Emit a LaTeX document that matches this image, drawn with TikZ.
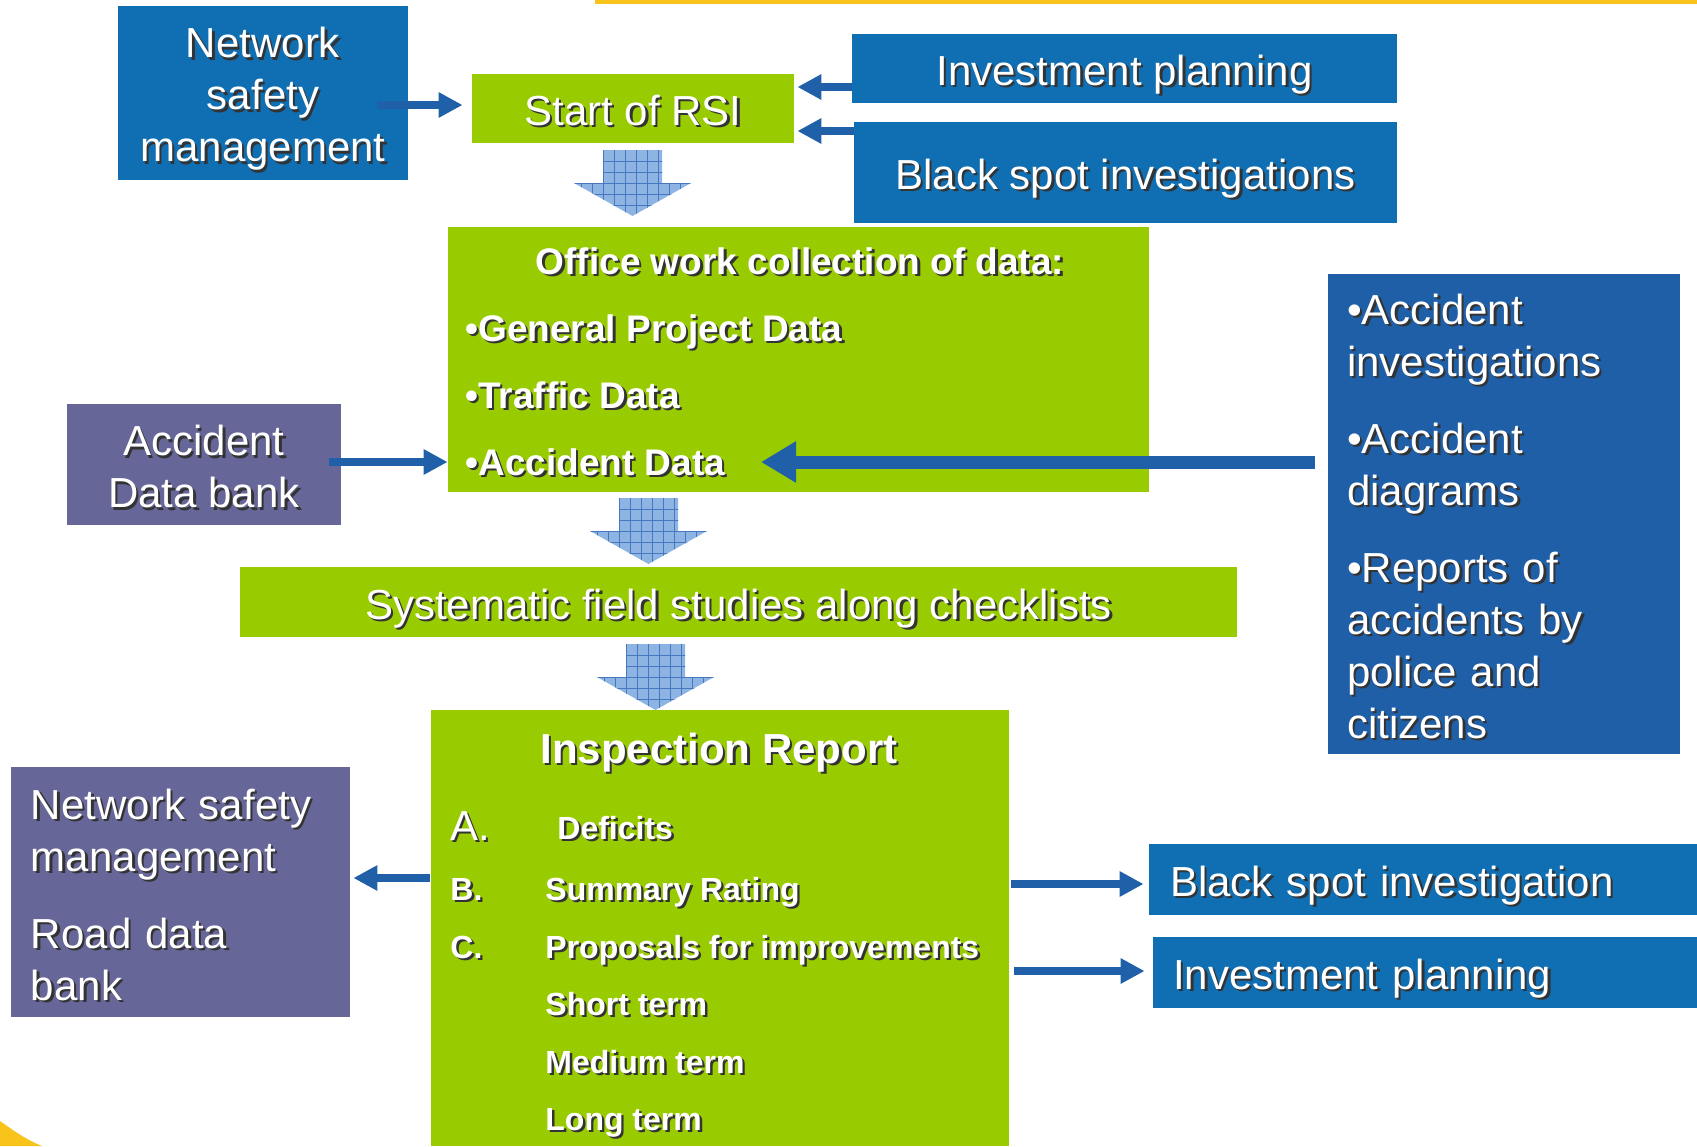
\documentclass[tikz,border=0pt]{standalone}
\usepackage{fontspec}
\setmainfont{Liberation Sans}
\usetikzlibrary{arrows.meta}
\usetikzlibrary{calc}

\definecolor{boxblue}{RGB}{16,110,178}
\definecolor{deepblue}{RGB}{31,95,168}
\definecolor{lilac}{RGB}{102,102,153}
\definecolor{lime}{RGB}{153,204,0}
\definecolor{arrowblue}{RGB}{32,96,168}
\definecolor{hatchfill}{RGB}{142,180,227}
\definecolor{hatchline}{RGB}{70,120,192}
\definecolor{gold}{RGB}{248,196,28}

% white text with a dark drop shadow
\newcommand{\tshadow}[1]{\leavevmode\rlap{\kern1.2pt\raisebox{-1.2pt}{\color{black!80}#1}}#1}

% checkered block arrow pointing down: #1 = x centre, #2 = top
\newcommand{\hatcharrow}[2]{%
	\begin{scope}
		\clip (#1-29.5,#2) -- (#1+29.5,#2) -- (#1+29.5,#2+33) -- (#1+58.5,#2+33)
			-- (#1,#2+66) -- (#1-58.5,#2+33) -- (#1-29.5,#2+33) -- cycle;
		\fill[hatchfill] (#1-60,#2-1) rectangle (#1+60,#2+67);
		\foreach \k in {0,...,11}
			\draw[hatchline, line width=0.5pt] (#1-62.5+\k*11,#2) -- ++(0,66);
		\foreach \k in {1,...,6}
			\draw[hatchline, line width=0.5pt] (#1-60,#2+\k*11) -- ++(120,0);
	\end{scope}}

\begin{document}
\begin{tikzpicture}[x=0.5pt,y=-0.5pt]
		\tikzstyle{plain}=[inner sep=0pt, text=white, font=\fontsize{21}{26}\selectfont]
		\tikzstyle{oneline}=[text height=17pt, text depth=0pt]
		\tikzstyle{bluebox}=[plain, fill=boxblue]
		\tikzstyle{greenbox}=[plain, fill=lime]
		\tikzstyle{lilacbox}=[plain, fill=lilac]
		\tikzstyle{boldtext}=[inner sep=0pt, text=white, font=\bfseries\fontsize{18.5}{22}\selectfont]
		\tikzstyle{itemtext}=[inner sep=0pt, text=white, font=\bfseries\fontsize{16}{20}\selectfont, anchor=base west]
		\tikzstyle{link}=[draw=arrowblue, line width=4pt, -{Triangle[length=12pt, width=12pt]}]
		\tikzstyle{biglink}=[draw=arrowblue, line width=6.5pt, -{Triangle[length=17.5pt, width=19.5pt]}]
		
		\useasboundingbox (0,0) rectangle (1697,1146);
		\fill[gold] (595,0) rectangle (1697,4);
		\fill[gold] (0,1121) .. controls (14,1131) and (27,1140) .. (42,1146) -- (0,1146) -- cycle;
		
		% top row
		\node[bluebox, minimum width=145pt, minimum height=86.75pt] (nsm) at (263,93) {};
		\node[plain, align=center] (nsmtext) at ($(nsm.center)+(0,7)$)
			{\tshadow{Network}\\\tshadow{safety}\\\tshadow{management}};
		\node[greenbox, oneline, minimum width=161pt, minimum height=34.5pt] (rsi) at (633,108.5) {\tshadow{Start of RSI}};
		\node[bluebox, oneline, minimum width=272.5pt, minimum height=34.5pt] (inv) at (1124.5,68.5) {\tshadow{Investment planning}};
		\node[bluebox, oneline, minimum width=271.5pt, minimum height=50.5pt] (bsi) at (1125.5,172.5) {\tshadow{Black spot investigations}};
		
		\draw[link] ($(nsm.east)+(-31,12)$) -- ($(rsi.west)+(-9,-3.5)$);
		\draw[link] ($(inv.west)+(0,18.5)$) -- ($(rsi.east)+(3,-21.5)$);
		\draw[link] ($(bsi.west)+(0,-41.5)$) -- ($(rsi.east)+(3,22.5)$);
		
		\hatcharrow{632.5}{150}
		
		% office work
		\node[greenbox, minimum width=350.5pt, minimum height=132.5pt] (office) at (798.5,359.5) {};
		\node[boldtext, anchor=base] (otitle) at (800,274) {\tshadow{Office work collection of data:}};
		\node[boldtext, anchor=base west] (gendata) at (465,341) {\tshadow{•General Project Data}};
		\node[boldtext, anchor=base west] (trafdata) at (465,408) {\tshadow{•Traffic Data}};
		\node[boldtext, anchor=base west] (accdata) at (465,475) {\tshadow{•Accident Data}};
		\coordinate (acctip) at (761,462);
		
		\node[lilacbox, minimum width=137pt, minimum height=60.5pt] (adb) at (204,464.5) {};
		\node[plain, align=center] (adbtext) at ($(adb.center)+(0,3.5)$)
			{\tshadow{Accident}\\\tshadow{Data bank}};
		\node[plain, fill=deepblue, minimum width=176pt, minimum height=240pt] (sources) at (1504,514) {};
		\node[plain, anchor=west, text width=157pt, align=left] (srctext) at ($(sources.west)+(19,3.5)$)
			{\tshadow{•Accident}\\\tshadow{investigations}\\[12.5pt]
			 \tshadow{•Accident}\\\tshadow{diagrams}\\[12.5pt]
			 \tshadow{•Reports of}\\\tshadow{accidents by}\\\tshadow{police and}\\\tshadow{citizens}};
		
		\draw[link] ($(adb.east)+(-12,-2.5)$) -- ($(office.west)+(0,102.5)$);
		\draw[biglink] ($(sources.west)+(-13,-52)$) -- (acctip);
		
		\hatcharrow{648.5}{498}
		
		\node[greenbox, oneline, minimum width=498.5pt, minimum height=35pt] (field) at (738.5,602)
			{\tshadow{Systematic field studies along checklists}};
		
		\hatcharrow{655.5}{644}
		
		% inspection report
		\node[greenbox, minimum width=289pt, minimum height=218pt] (insp) at (720,928) {};
		\node[plain, anchor=base, font=\bfseries\fontsize{21}{25}\selectfont] (ititle) at (719,763)
			{\tshadow{Inspection Report}};
		\node[plain, anchor=base west] (ia) at (450,840) {\tshadow{A.}};
		\node[itemtext] (deficits) at (557,839) {\tshadow{Deficits}};
		\node[itemtext] (ib) at (450,900) {\tshadow{B.}};
		\node[itemtext] (rating) at (545,900) {\tshadow{Summary Rating}};
		\node[itemtext] (ic) at (450,958) {\tshadow{C.}};
		\node[itemtext] (proposals) at (545,958) {\tshadow{Proposals for improvements}};
		\node[itemtext] (short) at (545,1015) {\tshadow{Short term}};
		\node[itemtext] (medium) at (545,1073) {\tshadow{Medium term}};
		\node[itemtext] (long) at (545,1130) {\tshadow{Long term}};
		
		\node[lilacbox, minimum width=169.5pt, minimum height=125pt] (nsmroad) at (180.5,892) {};
		\node[plain, anchor=west, text width=149.5pt, align=left] (nsmroadtext) at ($(nsmroad.west)+(20,4)$)
			{\tshadow{Network safety}\\\tshadow{management}\\[12.5pt]
			 \tshadow{Road data}\\\tshadow{bank}};
		\node[bluebox, oneline, minimum width=274pt, minimum height=35.5pt, inner xsep=10.5pt,
			text width=253pt, align=left] (bsiout) at (1423,879.5) {\tshadow{Black spot investigation}};
		\node[bluebox, oneline, minimum width=272pt, minimum height=35.5pt, inner xsep=10pt,
			text width=252pt, align=left] (invout) at (1425,972.5) {\tshadow{Investment planning}};
		
		\draw[link] ($(insp.west)+(-1,-50)$) -- ($(nsmroad.east)+(3,-14)$);
		\draw[link] ($(insp.east)+(2,-44)$) -- ($(bsiout.west)+(-5,4.5)$);
		\draw[link] ($(insp.east)+(5,43)$) -- ($(invout.west)+(-8,-1.5)$);
\end{tikzpicture}
\end{document}
